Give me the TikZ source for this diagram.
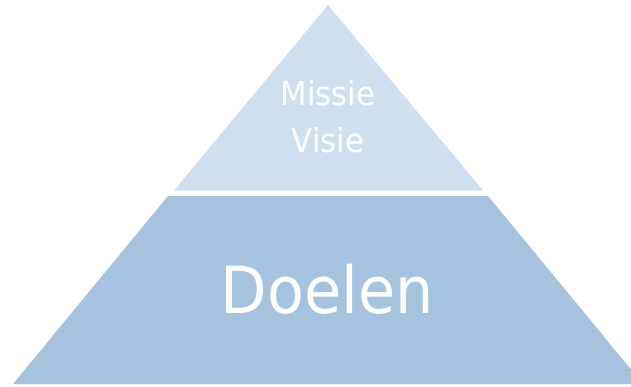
\documentclass[tikz,border=0pt]{standalone}
\usepackage{fontspec}
\newfontfamily\pyrfont[FakeStretch=0.93]{DejaVu Sans}
\definecolor{toplayer}{HTML}{D0DFEF}
\definecolor{botlayer}{HTML}{A5C2DF}
\begin{document}
\begin{tikzpicture}[x=1pt,y=-1pt,
  lbl/.style={anchor=base,inner sep=0pt,text=white},
  small/.style={lbl,font={\pyrfont\fontsize{33}{40}\selectfont}},
  big/.style={lbl,font={\pyrfont\fontsize{65}{78}\selectfont}}]
\useasboundingbox (0,0) rectangle (631,386);
\begin{scope}
\clip (0,0) rectangle (631,386);
\fill[toplayer] (328,5) -- (483,190.5) -- (174,190.5) -- cycle;
\fill[botlayer] (168,196) -- (488,196) -- (643,384) -- (13,384) -- cycle;
\end{scope}
\node[small] (missie) at (328,105) {Missie};
\node[small] (visie) at (328,152) {Visie};
\node[big] (doelen) at (327,313) {Doelen};
\end{tikzpicture}
\end{document}
